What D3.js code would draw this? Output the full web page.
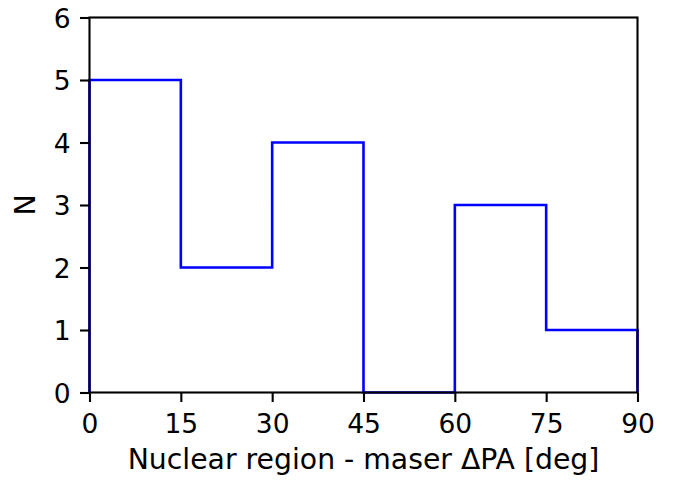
<!DOCTYPE html>
<html>
<head>
<meta charset="utf-8">
<script src="https://cdn.jsdelivr.net/npm/d3@7"></script>
<style>
  html, body { margin: 0; padding: 0; background: #fff; }
  svg { display: block; }
  text { font-family: "DejaVu Sans", sans-serif; fill: #000; }
</style>
</head>
<body>
<svg id="chart" width="673" height="481"></svg>
<script>
const binEdges = [0, 15, 30, 45, 60, 75, 90];
const counts = [5, 2, 4, 0, 3, 1];
const xTicks = [0, 15, 30, 45, 60, 75, 90];
const yTicks = [0, 1, 2, 3, 4, 5, 6];
const xLabel = "Nuclear region - maser \u0394PA [deg]";
const yLabel = "N";

(function () {
const svg = d3.select("#chart");
const mLeft = 89.5, mRight = 637.5, mTop = 17.5, mBottom = 392.5;
const fs = 26.5, lfs = 28.3;
const x = d3.scaleLinear().domain([0, 90]).range([mLeft, mRight]);
const y = d3.scaleLinear().domain([0, 6]).range([mBottom, mTop]);

// step outline
const pts = [[binEdges[0], 0]];
counts.forEach((c, i) => {
  pts.push([binEdges[i], c]);
  pts.push([binEdges[i + 1], c]);
});
pts.push([binEdges[binEdges.length - 1], 0]);

svg.append("path")
  .attr("d", d3.line().x(d => x(d[0])).y(d => y(d[1]))(pts))
  .attr("fill", "none")
  .attr("stroke", "#0000ff")
  .attr("stroke-width", 2.6)
  .attr("stroke-linejoin", "miter");

// axes
const xAxis = d3.axisBottom(x).tickValues(xTicks).tickSize(9.5).tickPadding(9.5).tickFormat(d3.format("d"));
const yAxis = d3.axisLeft(y).tickValues(yTicks).tickSize(9.5).tickPadding(9.5).tickFormat(d3.format("d"));

const gx = svg.append("g").attr("transform", `translate(0,${mBottom})`).call(xAxis);
const gy = svg.append("g").attr("transform", `translate(${mLeft},0)`).call(yAxis);
[gx, gy].forEach(g => {
  g.select(".domain").remove();
  g.selectAll(".tick line").attr("stroke", "#000").attr("stroke-width", 2.1);
  g.selectAll(".tick text").attr("font-size", fs).attr("font-family", "DejaVu Sans").attr("fill", "#000");
});
gx.selectAll(".tick text").attr("dy", "0.82em");
gy.selectAll(".tick text").attr("dy", "0.37em");

// frame (spines)
svg.append("rect")
  .attr("x", mLeft).attr("y", mTop)
  .attr("width", mRight - mLeft).attr("height", mBottom - mTop)
  .attr("fill", "none").attr("stroke", "#000").attr("stroke-width", 2.1);

// labels
svg.append("text")
  .attr("x", (mLeft + mRight) / 2).attr("y", 468.5)
  .attr("text-anchor", "middle").attr("font-size", lfs)
  .text(xLabel);

svg.append("text")
  .attr("transform", `translate(35,${(mTop + mBottom) / 2}) rotate(-90)`)
  .attr("text-anchor", "middle").attr("font-size", lfs)
  .text(yLabel);
})();
</script>
</body>
</html>
